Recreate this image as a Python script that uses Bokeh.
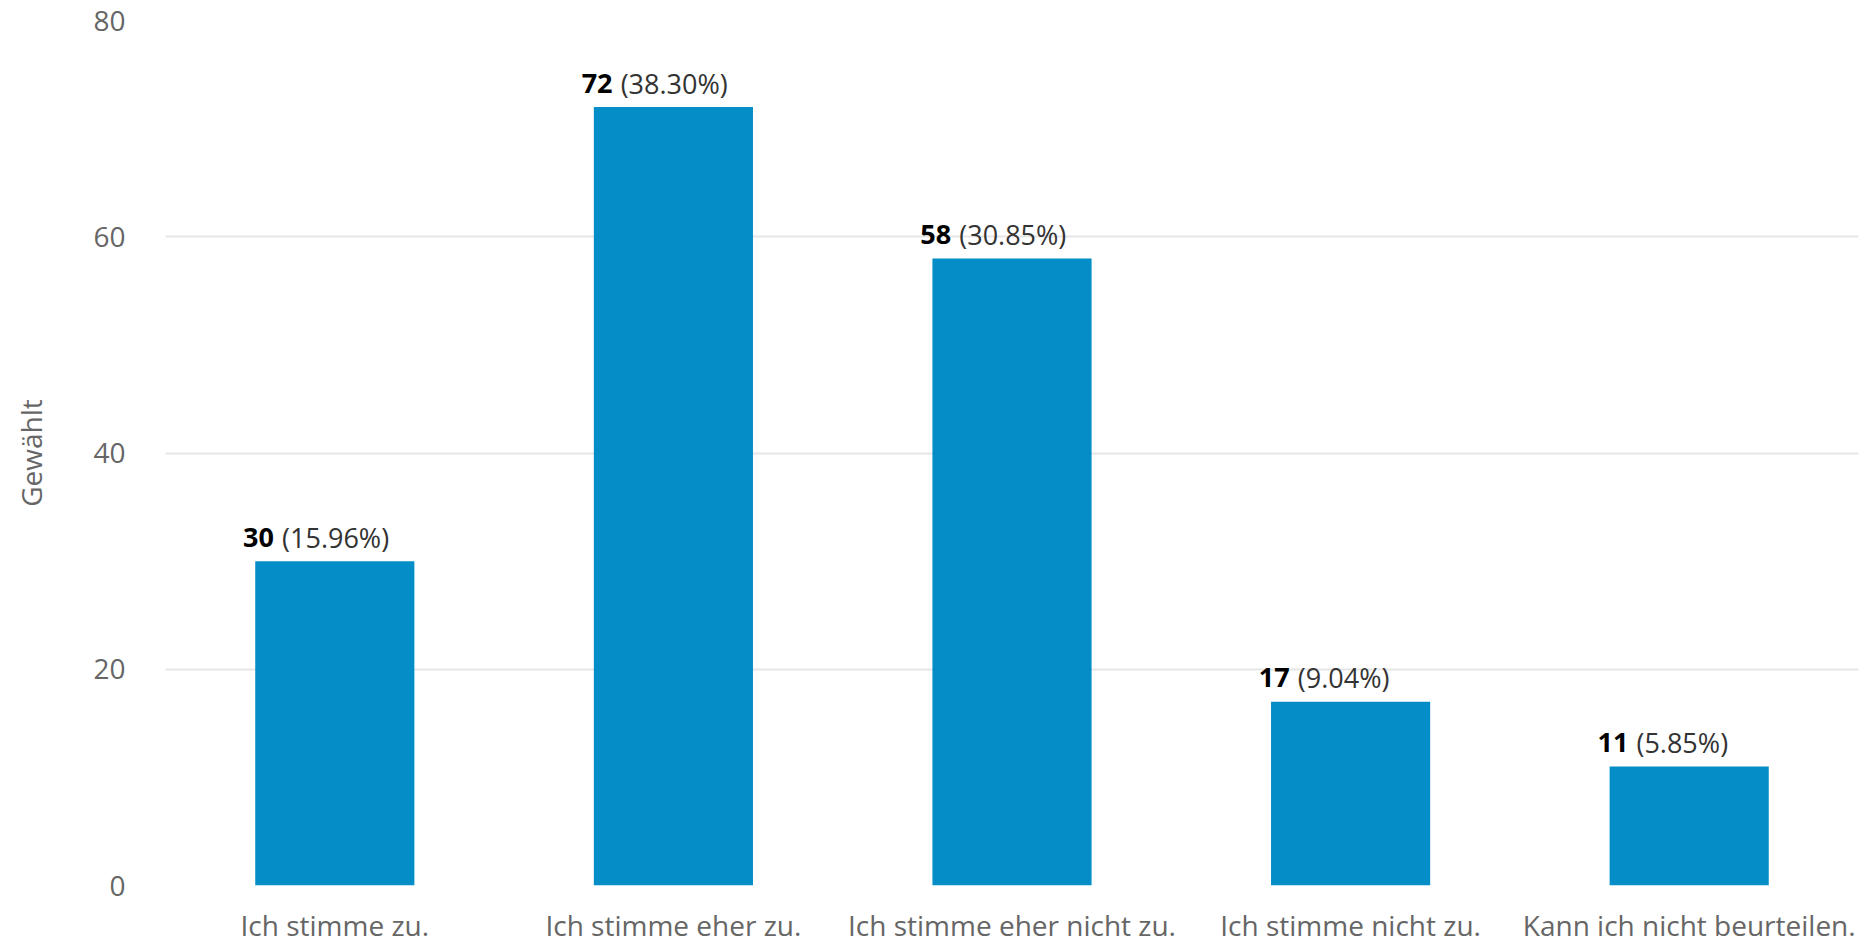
from bokeh.plotting import figure
from bokeh.models import ColumnDataSource, FactorRange, Range1d
from bokeh.transform import dodge
from bokeh.core.properties import value
from bokeh.embed import file_html
from bokeh.resources import INLINE

categories = ["Ich stimme zu.", "Ich stimme eher zu.", "Ich stimme eher nicht zu.",
              "Ich stimme nicht zu.", "Kann ich nicht beurteilen."]
counts = [30, 72, 58, 17, 11]
percents = [15.96, 38.30, 30.85, 9.04, 5.85]
y_ticks = [0, 20, 40, 60, 80]

FONT = "Open Sans"
BAR_W = 0.47

src = ColumnDataSource(dict(
    cat=categories,
    count=counts,
    count_txt=[str(c) for c in counts],
    pct_txt=["(%.2f%%)" % p for p in percents],
))

p = figure(
    x_range=FactorRange(*categories, range_padding=0),
    y_range=Range1d(0, 80),
    width=1870, height=952,
    output_backend="svg", toolbar_location=None,
    min_border_left=165, min_border_right=12, min_border_top=20, min_border_bottom=67,
)
p.outline_line_color = None
p.background_fill_color = "white"
p.border_fill_color = "white"

p.vbar(x="cat", top="count", width=BAR_W, source=src,
       fill_color="#058DC7", line_color=None)

# data labels: bold count + normal percentage
lx = dodge("cat", -(BAR_W / 2 + 0.036), range=p.x_range)
p.text(x=lx, y="count", text="count_txt", source=src,
       text_font=value(FONT), text_font_style="bold", text_font_size="27px",
       text_color="#000000", text_align="left", text_baseline="alphabetic",
       y_offset=-24)
p.text(x=lx, y="count", text="pct_txt", source=src,
       text_font=value(FONT), text_font_size="27px",
       text_color="#333333", text_align="left", text_baseline="alphabetic",
       x_offset=39, y_offset=-24)

# axes
p.xaxis.axis_line_color = None
p.xaxis.major_tick_line_color = None
p.xaxis.minor_tick_line_color = None
p.xaxis.major_tick_out = 0
p.xaxis.major_label_text_font = FONT
p.xaxis.major_label_text_font_size = "28px"
p.xaxis.major_label_text_color = "#666666"
p.xaxis.major_label_text_line_height = 1.0
p.xaxis.major_label_standoff = 20

p.yaxis.ticker = y_ticks
p.yaxis.axis_line_color = None
p.yaxis.major_tick_line_color = None
p.yaxis.minor_tick_line_color = None
p.yaxis.major_tick_out = 0
p.yaxis.major_label_text_font = FONT
p.yaxis.major_label_text_font_size = "28px"
p.yaxis.major_label_text_color = "#666666"
p.yaxis.major_label_standoff = 40
p.yaxis.axis_label = "Gewählt"
p.yaxis.axis_label_text_font = FONT
p.yaxis.axis_label_text_font_size = "28px"
p.yaxis.axis_label_text_font_style = "normal"
p.yaxis.axis_label_text_color = "#666666"
p.yaxis.axis_label_standoff = 40

p.xgrid.grid_line_color = None
p.ygrid.grid_line_color = "#e6e6e6"
p.ygrid.grid_line_width = 2

open("out.html", "w").write(file_html(p, INLINE))
